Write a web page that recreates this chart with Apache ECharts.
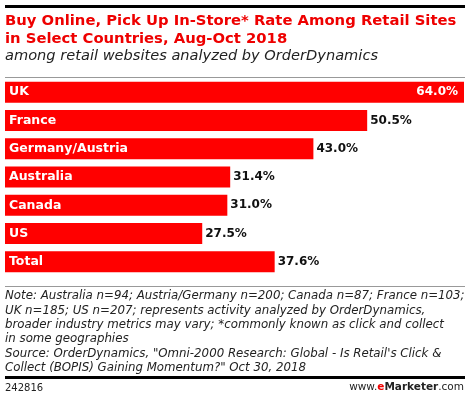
<!DOCTYPE html>
<html>
<head>
<meta charset="utf-8">
<script src="https://cdn.jsdelivr.net/npm/echarts@6/dist/echarts.min.js"></script>
<style>
    html, body { margin: 0; padding: 0; background: #fff; }
    #chart { width: 470px; height: 399px; }
</style>
</head>
<body>
<div id="chart"></div>
<script>
let countries = ['UK', 'France', 'Germany/Austria', 'Australia', 'Canada', 'US', 'Total'];
let rates = [64.0, 50.5, 43.0, 31.4, 31.0, 27.5, 37.6];

let titleLines = [
    'Buy Online, Pick Up In-Store* Rate Among Retail Sites',
    'in Select Countries, Aug-Oct 2018'
];
let subtitle = 'among retail websites analyzed by OrderDynamics';
let noteLines = [
    'Note: Australia n=94; Austria/Germany n=200; Canada n=87; France n=103;',
    'UK n=185; US n=207; represents activity analyzed by OrderDynamics,',
    'broader industry metrics may vary; *commonly known as click and collect',
    'in some geographies',
    'Source: OrderDynamics, "Omni-2000 Research: Global - Is Retail\'s Click &',
    'Collect (BOPIS) Gaining Momentum?" Oct 30, 2018'
];
let chartId = '242816';

const font = '"DejaVu Sans", Verdana, sans-serif';

let barData = rates.map((v, i) => {
    let item = { value: v };
    if (i === 0) {
        // biggest bar keeps its label inside
        item.label = { position: 'insideRight', color: '#fff', distance: 6 };
    }
    return item;
});

let graphics = [
    { type: 'rect', shape: { x: 5, y: 5, width: 460, height: 3 }, style: { fill: '#000' } },
    { type: 'rect', shape: { x: 5, y: 77, width: 460, height: 1 }, style: { fill: '#999' } },
    { type: 'rect', shape: { x: 5, y: 286, width: 460, height: 1 }, style: { fill: '#999' } },
    { type: 'rect', shape: { x: 5, y: 376, width: 460, height: 3 }, style: { fill: '#000' } },
    {
        type: 'text', left: 5, top: 12,
        style: { text: titleLines.join('\n'), font: 'bold 14.8px ' + font, fill: '#e00', lineHeight: 18 }
    },
    {
        type: 'text', left: 5, top: 49,
        style: { text: subtitle, font: 'italic 14.6px ' + font, fill: '#222' }
    },
    {
        type: 'text', left: 5, top: 289,
        style: { text: noteLines.join('\n'), font: 'italic 11.8px ' + font, fill: '#222', lineHeight: 14.4 }
    },
    {
        type: 'text', left: 5, top: 383,
        style: { text: chartId, font: '10px ' + font, fill: '#222' }
    },
    {
        type: 'text', right: 6, top: 382,
        style: {
            text: '{a|www.}{e|e}{m|Marketer}{a|.com}',
            rich: {
                a: { font: '10.5px ' + font, fill: '#222' },
                e: { font: 'bold 10.5px ' + font, fill: '#e00' },
                m: { font: 'bold 10.5px ' + font, fill: '#222' }
            }
        }
    }
];

let option = {
    animation: false,
    backgroundColor: '#fff',
    grid: {
        left: 5,
        right: 6,
        top: 78,
        height: 198
    },
    xAxis: {
        type: 'value',
        min: 0,
        max: 64,
        show: false
    },
    yAxis: {
        type: 'category',
        inverse: true,
        data: countries,
        axisLine: { show: false },
        axisTick: { show: false },
        splitLine: { show: false },
        axisLabel: {
            inside: true,
            margin: 4,
            color: '#fff',
            fontFamily: font,
            fontWeight: 'bold',
            fontSize: 12.5
        },
        z: 10
    },
    series: [
        {
            type: 'bar',
            data: barData,
            barWidth: 21,
            itemStyle: { color: '#f00' },
            label: {
                show: true,
                position: 'right',
                distance: 3,
                color: '#111',
                fontFamily: font,
                fontWeight: 'bold',
                fontSize: 12,
                formatter: p => p.value.toFixed(1) + '%'
            }
        }
    ],
    graphic: graphics
};

let chart = echarts.init(document.getElementById('chart'));
chart.setOption(option);
window.addEventListener('resize', function () {
    chart.resize();
});
</script>
</body>
</html>
